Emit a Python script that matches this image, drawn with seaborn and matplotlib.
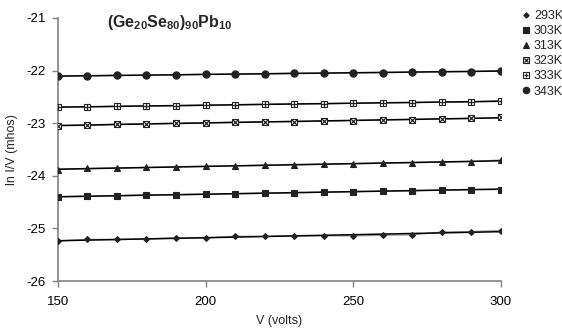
import numpy as np
import pandas as pd
import matplotlib
matplotlib.use("Agg")
import matplotlib.pyplot as plt
import seaborn as sns
from matplotlib.lines import Line2D
from matplotlib.legend_handler import HandlerTuple

voltage = [150, 160, 170, 180, 190, 200, 210, 220, 230, 240, 250, 260, 270, 280, 290, 300]
temps = ["293K", "303K", "313K", "323K", "333K", "343K"]
ln_iv_293 = [-25.24, -25.21, -25.21, -25.20, -25.18, -25.18, -25.15, -25.15, -25.14, -25.14, -25.14, -25.13, -25.12, -25.07, -25.06, -25.04]
ln_iv_303 = [-24.40, -24.39, -24.38, -24.36, -24.36, -24.35, -24.34, -24.33, -24.32, -24.31, -24.30, -24.29, -24.28, -24.27, -24.26, -24.26]
ln_iv_313 = [-23.88, -23.86, -23.85, -23.84, -23.83, -23.82, -23.81, -23.80, -23.79, -23.78, -23.77, -23.76, -23.75, -23.74, -23.73, -23.70]
ln_iv_323 = [-23.05, -23.04, -23.02, -23.01, -23.00, -22.99, -22.98, -22.97, -22.97, -22.96, -22.95, -22.94, -22.93, -22.92, -22.91, -22.89]
ln_iv_333 = [-22.69, -22.69, -22.68, -22.67, -22.67, -22.66, -22.65, -22.64, -22.63, -22.63, -22.62, -22.61, -22.61, -22.60, -22.60, -22.57]
ln_iv_343 = [-22.10, -22.10, -22.09, -22.09, -22.08, -22.07, -22.07, -22.06, -22.05, -22.05, -22.04, -22.04, -22.03, -22.02, -22.02, -22.00]
series = [ln_iv_293, ln_iv_303, ln_iv_313, ln_iv_323, ln_iv_333, ln_iv_343]
y_ticks = [-26, -25, -24, -23, -22, -21]
x_ticks = [150, 200, 250, 300]

sns.set_theme(style="white")
plt.rcParams['font.family'] = ['Liberation Sans', 'DejaVu Sans']
plt.rcParams['axes.unicode_minus'] = False
plt.rcParams['mathtext.fontset'] = 'custom'
plt.rcParams['mathtext.bf'] = 'Liberation Sans:bold'
plt.rcParams['mathtext.rm'] = 'Liberation Sans'

fig = plt.figure(figsize=(5.62, 3.33), dpi=100)
ax = fig.add_axes([0.103, 0.156, 0.788, 0.79])

# marker styles: (marker, size, facecolor, overlay marker)
styles = [
    ("D", 3.0, "#222222", None),
    ("s", 5.0, "#222222", None),
    ("^", 4.2, "#222222", None),
    ("s", 5.0, "white", "x"),
    ("s", 5.0, "white", "+"),
    ("o", 5.2, "#222222", None),
]

handles = []
for t, vals, (mk, ms, fc, ov) in zip(temps, series, styles):
    df = pd.DataFrame({"V": voltage, "lnIV": vals})
    sns.lineplot(data=df, x="V", y="lnIV", ax=ax, color="#9a9a9a", linewidth=1.0, zorder=2)
    sns.regplot(data=df, x="V", y="lnIV", ax=ax, scatter=False, ci=None, truncate=True,
                line_kws=dict(color="black", linewidth=1.1, zorder=3))
    sns.lineplot(data=df, x="V", y="lnIV", ax=ax, linewidth=0,
                 marker=mk, markersize=ms, markerfacecolor=fc,
                 markeredgecolor="#222222", markeredgewidth=0.8, zorder=4)
    if ov is not None:
        sns.lineplot(data=df, x="V", y="lnIV", ax=ax, linewidth=0,
                     marker=ov, markersize=ms * 0.75, markeredgecolor="#222222",
                     markeredgewidth=0.9, zorder=5)
    h = Line2D([], [], linestyle="none", marker=mk, markersize=ms * 0.9,
               markerfacecolor=fc, markeredgecolor="#222222", markeredgewidth=0.8)
    if ov is not None:
        h2 = Line2D([], [], linestyle="none", marker=ov, markersize=ms * 0.68,
                    markeredgecolor="#222222", markeredgewidth=0.9)
        h = (h, h2)
    handles.append(h)

ax.set_xlim(150, 300)
ax.set_ylim(-26, -21)
ax.set_xticks(x_ticks)
ax.set_yticks(y_ticks)
ax.set_xticklabels([str(v) for v in x_ticks])
ax.set_yticklabels([str(v) for v in y_ticks])
ax.tick_params(axis="both", direction="out", length=4, width=1, color="#808080",
               labelsize=9.5, labelcolor="black", pad=5, bottom=True, left=True)
ax.tick_params(axis="x", pad=7)
for s in ["top", "right"]:
    ax.spines[s].set_visible(False)
for s in ["left", "bottom"]:
    ax.spines[s].set_color("#808080")
    ax.spines[s].set_linewidth(1.2)
ax.set_xlabel("V (volts)", fontsize=9, labelpad=5)
ax.set_ylabel("ln I/V (mhos)", fontsize=9, labelpad=6)
ax.text(188, -21.08, r"$\mathbf{(Ge_{20}Se_{80})_{90}Pb_{10}}$", ha="center", va="center", fontsize=11.5)

leg = fig.legend(handles, temps, loc="upper left", bbox_to_anchor=(0.928, 0.97),
                 frameon=False, fontsize=9, handlelength=0.7, handletextpad=0.3,
                 labelspacing=0.25, borderaxespad=0, borderpad=0,
                 handler_map={tuple: HandlerTuple(ndivide=1)})

fig.savefig("out.png", dpi=100)
